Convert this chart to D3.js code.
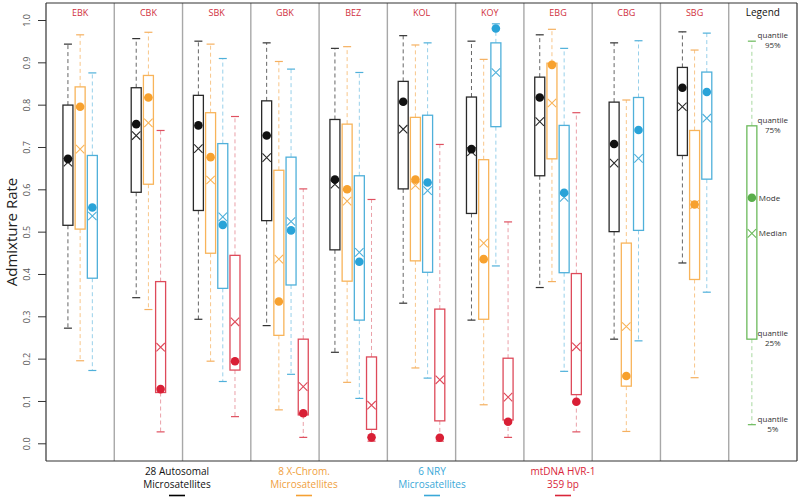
<!DOCTYPE html>
<html><head><meta charset="utf-8">
<script src="https://cdn.jsdelivr.net/npm/d3@7"></script>
<style>body{margin:0;background:#fff}svg{display:block}text{font-family:"Open Sans","Noto Sans",sans-serif}</style>
</head><body><svg id="c" width="800" height="498"></svg>
<script>
const panels = ["EBK","CBK","SBK","GBK","BEZ","KOL","KOY","EBG","CBG","SBG","Legend"];
const yTicks = [0,0.1,0.2,0.3,0.4,0.5,0.6,0.7,0.8,0.9,1.0];
// each entry: [q05, q25, median, mode, q75, q95], null = absent
const autosomal = [
  [0.272,0.515,0.664,0.672,0.799,0.943],
  [0.344,0.593,0.727,0.754,0.840,0.956],
  [0.293,0.550,0.696,0.751,0.822,0.950],
  [0.278,0.526,0.675,0.727,0.809,0.946],
  [0.215,0.457,0.612,0.623,0.765,0.933],
  [0.331,0.601,0.742,0.807,0.855,0.963],
  [0.291,0.543,0.689,0.695,0.818,0.950],
  [0.368,0.632,0.760,0.817,0.865,0.965],
  [0.246,0.500,0.662,0.707,0.806,0.946],
  [0.426,0.680,0.795,0.840,0.888,0.972]
];
const xChrom = [
  [0.195,0.506,0.695,0.795,0.842,0.965],
  [0.316,0.612,0.757,0.817,0.869,0.971],
  [0.194,0.449,0.622,0.676,0.781,0.943],
  [0.079,0.255,0.435,0.335,0.645,0.902],
  [0.144,0.383,0.572,0.600,0.754,0.937],
  [0.178,0.431,0.609,0.623,0.770,0.941],
  [0.091,0.293,0.473,0.435,0.670,0.907],
  [0.382,0.672,0.804,0.894,0.898,0.978],
  [0.028,0.135,0.276,0.159,0.473,0.811],
  [0.155,0.387,0.564,0.564,0.739,0.929]
];
const nry = [
  [0.172,0.390,0.537,0.557,0.680,0.875],
  null,
  [0.146,0.366,0.535,0.516,0.708,0.909],
  [0.163,0.374,0.524,0.503,0.676,0.884],
  [0.106,0.291,0.451,0.429,0.632,0.876],
  [0.154,0.404,0.597,0.616,0.775,0.946],
  [0.419,0.748,0.876,0.980,0.946,0.991],
  [0.170,0.403,0.581,0.592,0.751,0.933],
  [0.242,0.503,0.673,0.740,0.817,0.951],
  [0.357,0.624,0.768,0.830,0.877,0.969]
];
const mtdna = [
  null,
  [0.027,0.120,0.227,0.128,0.382,0.739],
  [0.063,0.173,0.287,0.194,0.444,0.772],
  [0.014,0.067,0.134,0.071,0.246,0.601],
  [0.005,0.033,0.090,0.014,0.204,0.576],
  [0.005,0.053,0.150,0.013,0.317,0.706],
  [0.014,0.055,0.109,0.051,0.201,0.523],
  [0.027,0.115,0.228,0.098,0.401,0.781],
  null,
  null
];
const legendBox = [0.044,0.246,0.496,0.580,0.750,0.950];
const seriesNames = ["28 Autosomal\nMicrosatellites","8 X-Chrom.\nMicrosatellites","6 NRY\nMicrosatellites","mtDNA HVR-1\n359 bp"];
const legendLabels = [["quantile","95%"],["quantile","75%"],["Mode"],["Median"],["quantile","25%"],["quantile","5%"]];

const styles = [
  {dot:"#111", box:"#2a2a2a", wh:"#666", cap:"#333", leg:"#000", txt:"#111"},
  {dot:"#f7a12e", box:"#f8b45a", wh:"#f8c68a", cap:"#f5b060", leg:"#f5a033", txt:"#f0a040"},
  {dot:"#29a3d8", box:"#4fb0da", wh:"#98d0ea", cap:"#4fb0da", leg:"#3aa8d8", txt:"#3aa8d8"},
  {dot:"#d91f35", box:"#de4a5a", wh:"#eaa0a8", cap:"#df5060", leg:"#d9263a", txt:"#d9263a"}
];
const green = {dot:"#5aae4a", box:"#6cba5c", wh:"#a8d8a0", cap:"#6cba5c"};
const allSeries = [autosomal, xChrom, nry, mtdna];

const svg = d3.select("#c");
const L = 46, R = 797, T = 3, B = 461;
const x = d3.scaleBand().domain(panels).range([L, R]);
const y = d3.scaleLinear().domain([0,1]).range([443.3, 20]);
const step = 12.2, bw = 10, cw = 8;

// dividers
svg.append("g").selectAll("line").data(panels.slice(1)).join("line")
  .attr("x1", d=>x(d)).attr("x2", d=>x(d)).attr("y1", T).attr("y2", B)
  .attr("stroke", "#a8a8a8").attr("stroke-width", 1.4);
// frame
svg.append("line").attr("x1",L).attr("x2",R).attr("y1",T).attr("y2",T).attr("stroke","#333").attr("stroke-width",1.2);
svg.append("line").attr("x1",L).attr("x2",R).attr("y1",B).attr("y2",B).attr("stroke","#333").attr("stroke-width",1.2);
svg.append("line").attr("x1",R).attr("x2",R).attr("y1",T).attr("y2",B).attr("stroke","#333").attr("stroke-width",1.2);

// y axis
const ax = svg.append("g").attr("transform", `translate(${L},0)`)
  .call(d3.axisLeft(y).tickValues(yTicks).tickFormat(d3.format(".1f")).tickSize(8).tickSizeOuter(0));
ax.select(".domain").attr("d", `M0,${T}V${B}`).attr("stroke","#333").attr("stroke-width",1.2);
ax.selectAll(".tick line").attr("stroke","#333");
ax.selectAll(".tick text").attr("x",0).attr("dx",0).attr("dy",0)
  .attr("transform","translate(-16,0) rotate(-90)")
  .attr("text-anchor","middle").attr("font-size",9).attr("fill","#555")
  .style("font-family","'Open Sans',sans-serif");

svg.append("text").attr("transform","translate(17,232) rotate(-90)").attr("text-anchor","middle")
  .attr("font-size",15).attr("fill","#222").text("Admixture Rate");

// panel titles
svg.append("g").selectAll("text").data(panels).join("text")
  .attr("x", d=>x(d)+x.bandwidth()/2 + (d==="Legend"?0:0)).attr("y", 16)
  .attr("text-anchor","middle").attr("font-size", d=>d==="Legend"?10:9)
  .attr("fill", d=>d==="Legend"?"#111":"#d0303d").text(d=>d);

function drawBox(g, cx, v, st) {
  const [q05,q25,med,mode,q75,q95] = v;
  const dash = "4,3";
  g.append("line").attr("x1",cx).attr("x2",cx).attr("y1",y(q75)).attr("y2",y(q95))
    .attr("stroke",st.wh).attr("stroke-dasharray",dash).attr("stroke-width",1);
  g.append("line").attr("x1",cx).attr("x2",cx).attr("y1",y(q25)).attr("y2",y(q05))
    .attr("stroke",st.wh).attr("stroke-dasharray",dash).attr("stroke-width",1);
  [q95,q05].forEach(q=>g.append("line").attr("x1",cx-cw/2).attr("x2",cx+cw/2).attr("y1",y(q)).attr("y2",y(q))
    .attr("stroke",st.cap).attr("stroke-width",1.2));
  g.append("rect").attr("x",cx-bw/2).attr("width",bw).attr("y",y(q75)).attr("height",y(q25)-y(q75))
    .attr("fill","none").attr("stroke",st.box).attr("stroke-width",1.3);
  const s = 4.2, my = y(med);
  g.append("path").attr("d",`M${cx-s},${my-s}L${cx+s},${my+s}M${cx-s},${my+s}L${cx+s},${my-s}`)
    .attr("stroke",st.box).attr("stroke-width",1.1).attr("fill","none");
  g.append("circle").attr("cx",cx).attr("cy",y(mode)).attr("r",4.3).attr("fill",st.dot);
}

const plot = svg.append("g");
panels.slice(0,10).forEach((p,i)=>{
  const present = allSeries.map((s,k)=>({k, v:s[i]})).filter(d=>d.v);
  const c = x(p)+x.bandwidth()/2;
  present.forEach((d,j)=>{
    const cx = c + (j-(present.length-1)/2)*step;
    drawBox(plot, cx, d.v, styles[d.k]);
  });
});
// legend box
const lc = x("Legend")+x.bandwidth()/2 - 11;
drawBox(plot, lc, legendBox, green);
const lv = [legendBox[5],legendBox[4],legendBox[3],legendBox[2],legendBox[1],legendBox[0]];
legendLabels.forEach((lab,i)=>{
  const t = svg.append("text").attr("font-size",8).attr("fill","#333");
  if (lab.length===2) {
    t.attr("text-anchor","middle");
    t.append("tspan").attr("x",lc+21).attr("y",y(lv[i])-3).text(lab[0]);
    t.append("tspan").attr("x",lc+21).attr("y",y(lv[i])+7).text(lab[1]);
  } else {
    t.attr("x",lc+7).attr("y",y(lv[i])+3).text(lab[0]);
  }
});

// bottom legend
const bx = [177, 304, 432, 563];
seriesNames.forEach((n,i)=>{
  const parts = n.split("\n");
  const t = svg.append("text").attr("text-anchor","middle").attr("font-size",10).attr("fill",styles[i].txt);
  parts.forEach((p,k)=>t.append("tspan").attr("x",bx[i]).attr("y",475+k*12.5).text(p));
  svg.append("line").attr("x1",bx[i]-8).attr("x2",bx[i]+8).attr("y1",495.5).attr("y2",495.5)
    .attr("stroke",styles[i].leg).attr("stroke-width",1.6);
});
</script></body></html>
